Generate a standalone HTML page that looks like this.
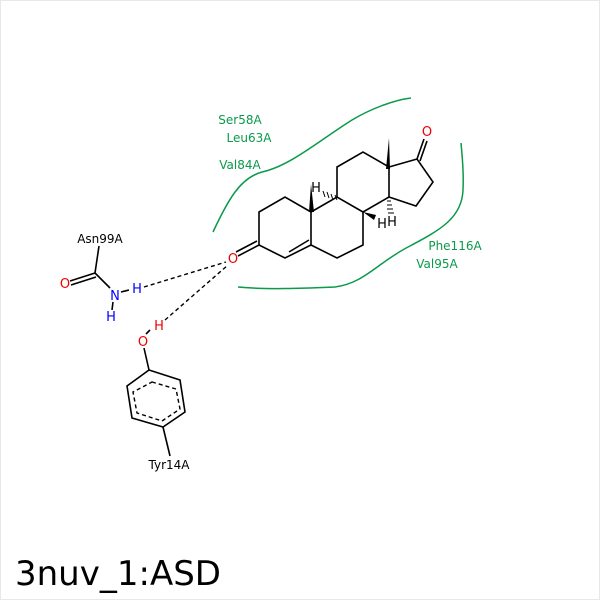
<!DOCTYPE html>
<html><head><style>body{margin:0;background:#fff}svg{display:block}</style></head><body>
<svg width="600" height="600" viewBox="0 0 600 600" xmlns="http://www.w3.org/2000/svg" font-family="DejaVu Sans, Liberation Sans, sans-serif">
<rect x="0.5" y="0.5" width="599" height="599" fill="#fff" stroke="#e8e8e8"/>
<g fill="none" stroke="#0a9a4a" stroke-width="1.5">
<path d="M213,232 C228,200 240,178 262,172 C290,166 320,140 352,120 C372,108 395,100 411,98"/>
<path d="M238,287 C270,290 310,288 335,287 C365,283 378,262 410,246 C440,230 462,218 463,190 C464,170 462,155 461,143"/>
</g>
<g fill="#0a9a4a" font-size="12" text-anchor="middle">
<text x="240" y="124">Ser58A</text>
<text x="249" y="142">Leu63A</text>
<text x="240" y="169">Val84A</text>
<text x="455" y="250">Phe116A</text>
<text x="437" y="268">Val95A</text>
</g>
<g stroke="#000" stroke-width="1.6" fill="none">
<path d="M259,245 L259,212 L285,197 L311,212 L311,245 L285,258 Z"/>
<path d="M289,252 L309,240"/>
<path d="M311,212 L337,197 L363,212 L363,245 L337,258 L311,245"/>
<path d="M337,197 L337,167 L363,152 L389,167 L389,197 L363,212"/>
<path d="M389,167 L417,159 L433,182 L416,206 L389,197"/>
<path d="M417,159 L424,139 M420,161 L427,141"/>
<path d="M259,245 L238,256 M257,241 L236,252"/>
<path d="M99,246 L95,273 M95,273 L70,281 M96,277 L71,285 M95,273 L110,288"/>
<path d="M121,292 L129,290 M113,302 L112,310"/>
<path d="M146,334 L150,330"/>
<path d="M144,348 L149,370"/>
<path d="M149,370 L180,380 L185,412 L163,427 L132,418 L127,386 Z"/>
<path d="M163,427 L170,456"/>
</g>
<g stroke="#000" stroke-width="1.4" stroke-dasharray="4,3" fill="none">
<path d="M152,382 L176,389 L180,409 L162,421 L137,413 L133,392 Z"/>
<path d="M144,287 L226,262"/>
<path d="M165,320 L228,265"/>
</g>
<g fill="#000">
<polygon points="386,169 390,169 389,138"/>
<polygon points="309,212 314,212 311,184"/>
<polygon points="363,212 376,215 374,220"/>
</g>
<g stroke="#000" stroke-width="1">
<path d="M335,195 L337,200 M331,194 L333,200 M327,192 L329,198 M323,191 L325,197"/>
<path d="M387,201 L391,201 M387,205 L392,205 M387,209 L393,209 M388,213 L394,213"/>
</g>
<g font-size="13" text-anchor="middle">
<text x="316" y="192">H</text>
<text x="382" y="228">H</text>
<text x="392" y="226">H</text>
<text x="427" y="136" fill="#e00">O</text>
<text x="233" y="263" fill="#e00">O</text>
<text x="65" y="288" fill="#e00">O</text>
<text x="115" y="300" fill="#00f">N</text>
<text x="137" y="293" fill="#00f">H</text>
<text x="111" y="321" fill="#00f">H</text>
<text x="143" y="346" fill="#e00">O</text>
<text x="159" y="330" fill="#e00">H</text>
</g>
<g font-size="12" text-anchor="middle">
<text x="100" y="243">Asn99A</text>
<text x="169" y="469">Tyr14A</text>
</g>
<text x="15" y="585" font-size="34">3nuv_1:ASD</text>
</svg>
</body></html>
